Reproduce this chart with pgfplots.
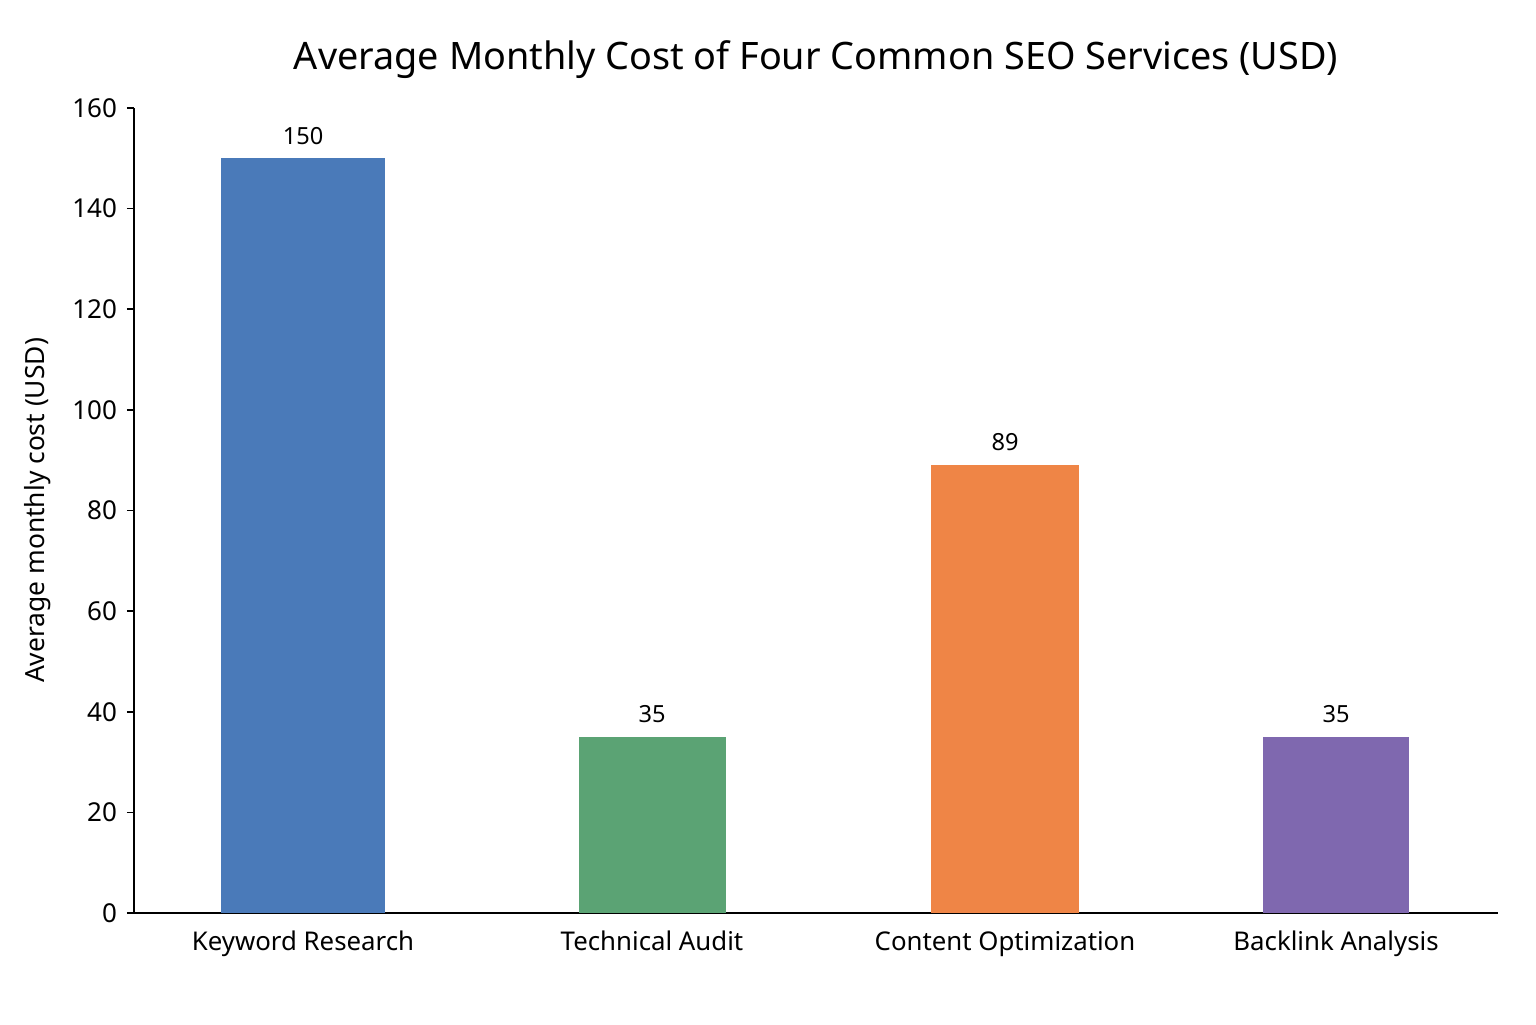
\documentclass[border=0pt]{standalone}
\usepackage{pgfplots}
\pgfplotsset{compat=1.18}
\usepackage{fontspec}
\setmainfont{Noto Sans}
\definecolor{cblue}{HTML}{4A7AB9}
\definecolor{cgreen}{HTML}{5BA374}
\definecolor{corange}{HTML}{EF8546}
\definecolor{cpurple}{HTML}{7F68AF}
\begin{document}
\begin{tikzpicture}
\begin{axis}[
  scale only axis,
  width=682pt, height=402.5pt,
  xmin=134, xmax=1498, ymin=0, ymax=160,
  axis x line=bottom, axis y line=left,
  axis line style={-, line width=0.8pt, black},
  xtick={303,652,1005,1336},
  xticklabels={Keyword Research,Technical Audit,Content Optimization,Backlink Analysis},
  x tick style={draw=none},
  ytick={0,20,...,160},
  y tick style={line width=0.8pt, black},
  tick align=outside,
  major tick length=3.5pt,
  /pgf/number format/assume math mode=true,
  xticklabel style={font=\fontsize{12.9}{15}\selectfont, yshift=-2pt},
  yticklabel style={font=\fontsize{13}{15}\selectfont, xshift=-1.5pt},
  ylabel={Average monthly cost (USD)},
  ylabel style={font=\fontsize{13.2}{15}\selectfont, yshift=4pt},
  title={Average Monthly Cost of Four Common SEO Services (USD)},
  title style={font=\fontsize{18.9}{22}\selectfont, yshift=5pt},
  nodes near coords,
  nodes near coords style={font=\fontsize{11.8}{13}\selectfont, text=black, yshift=3.5pt},
  point meta=y,
  ybar, bar shift=0pt,
]
\addplot[fill=cblue, draw=none, bar width=164] coordinates {(303,150)};
\addplot[fill=cgreen, draw=none, bar width=147] coordinates {(652,35)};
\addplot[fill=corange, draw=none, bar width=148] coordinates {(1005,89)};
\addplot[fill=cpurple, draw=none, bar width=146] coordinates {(1336,35)};
\end{axis}
\pgfresetboundingbox
\path (current axis.south west) ++(-67pt,-55.5pt) rectangle ++(768pt,512pt);
\end{tikzpicture}
\end{document}
